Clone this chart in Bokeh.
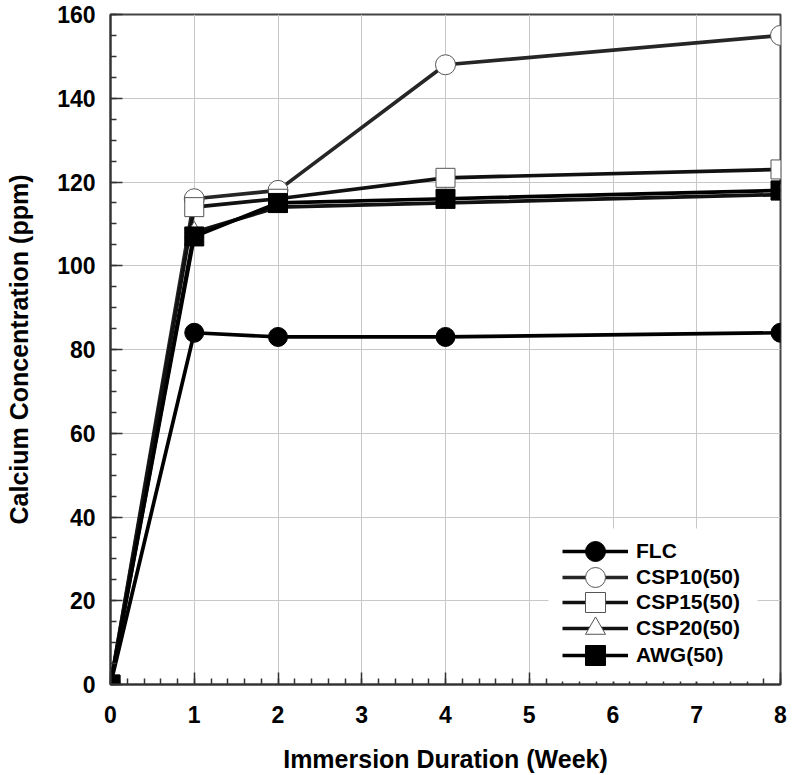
from bokeh.plotting import figure
from bokeh.models import (Range1d, SingleIntervalTicker, Legend, LegendItem, BoxAnnotation)
from bokeh.embed import file_html
from bokeh.resources import INLINE

weeks = [0, 1, 2, 4, 8]
flc = [0, 84, 83, 83, 84]
csp10 = [0, 116, 118, 148, 155]
csp15 = [0, 114, 116, 121, 123]
csp20 = [0, 108, 114, 115, 117]
awg = [0, 107, 115, 116, 118]
labels = ["FLC", "CSP10(50)", "CSP15(50)", "CSP20(50)", "AWG(50)"]

FONT = "Liberation Sans"

p = figure(width=792, height=775, output_backend="svg", toolbar_location=None,
           x_range=Range1d(0, 8), y_range=Range1d(0, 160),
           min_border_left=110, min_border_top=14, min_border_right=12,
           min_border_bottom=91)
p.background_fill_color = "white"
p.border_fill_color = "white"
p.outline_line_color = "#444444"
p.outline_line_width = 2

p.xaxis.ticker = SingleIntervalTicker(interval=1, num_minor_ticks=5)
p.yaxis.ticker = SingleIntervalTicker(interval=20, num_minor_ticks=4)
for ax in (p.xaxis[0], p.yaxis[0]):
    ax.axis_line_color = "#333333"
    ax.axis_line_width = 2
    ax.major_tick_in = 12
    ax.major_tick_out = 0
    ax.minor_tick_in = 6
    ax.minor_tick_out = 0
    ax.major_tick_line_color = "#333333"
    ax.major_tick_line_width = 1.5
    ax.minor_tick_line_color = "#333333"
    ax.minor_tick_line_width = 1.5
    ax.major_label_text_font = FONT
    ax.major_label_text_font_style = "bold"
    ax.major_label_text_color = "black"
    ax.axis_label_text_font = FONT
    ax.axis_label_text_font_style = "bold"
    ax.axis_label_text_color = "black"
    ax.axis_label_text_font_size = "25px"
    ax.major_label_text_font_size = "23px"

p.xaxis.axis_label = "Immersion Duration (Week)"
p.yaxis.axis_label = "Calcium Concentration (ppm)"
p.xaxis.major_label_standoff = 21
p.xaxis.axis_label_standoff = 19
p.yaxis.major_label_standoff = 15
p.yaxis.axis_label_standoff = 21

p.xgrid.grid_line_color = "#c8c8c8"
p.ygrid.grid_line_color = "#c8c8c8"
p.xgrid.grid_line_width = 1
p.ygrid.grid_line_width = 1

LW = 3.7
MS = 19
pairs = []

l1 = p.line(weeks, flc, line_color="black", line_width=LW)
s1 = p.scatter(weeks, flc, marker="circle", size=MS, fill_color="black", line_color="black")
pairs.append([l1, s1])

l2 = p.line(weeks, csp10, line_color="#262626", line_width=LW)
s2 = p.scatter(weeks, csp10, marker="circle", size=MS + 1, fill_color="white", line_color="#555555", line_width=1)
pairs.append([l2, s2])

l3 = p.line(weeks, csp15, line_color="#111111", line_width=LW)
s3 = p.scatter(weeks, csp15, marker="square", size=MS, fill_color="white", line_color="#555555", line_width=1)
pairs.append([l3, s3])

l4 = p.line(weeks, csp20, line_color="#111111", line_width=LW)
s4 = p.scatter(weeks, csp20, marker="triangle", size=MS, fill_color="white", line_color="#555555", line_width=1)
pairs.append([l4, s4])

l5 = p.line(weeks, awg, line_color="black", line_width=LW)
s5 = p.scatter(weeks, awg, marker="square", size=MS, fill_color="black", line_color="black")
pairs.append([l5, s5])

# white backdrop behind the legend (frame-relative screen px)
p.add_layout(BoxAnnotation(left=438, right=647, bottom=3, top=156,
                           left_units="screen", right_units="screen",
                           bottom_units="screen", top_units="screen",
                           fill_color="white", fill_alpha=1.0, line_color=None))

# one legend per entry so the markers can be large while the rows stay close
row_bottoms = [108, 82, 57, 31, 4]
for lab, rends, yb in zip(labels, pairs, row_bottoms):
    lg = Legend(items=[LegendItem(label=lab, renderers=rends)], location=(452, yb),
                glyph_width=66, glyph_height=50, spacing=0, padding=0, margin=0,
                label_standoff=8, label_text_font=FONT, label_text_font_style="bold",
                label_text_font_size="21px", label_text_color="black",
                border_line_color=None, background_fill_alpha=0.0)
    p.add_layout(lg)

open("out.html", "w").write(file_html(p, INLINE))
